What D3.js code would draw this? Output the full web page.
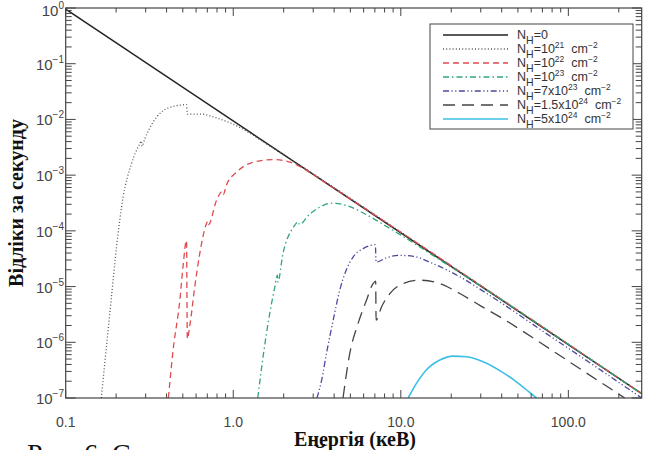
<!DOCTYPE html>
<html>
<head>
<meta charset="utf-8">
<script src="https://cdn.jsdelivr.net/npm/d3@7"></script>
<style>
  body { margin: 0; background: #fff; }
  text { font-family: "Liberation Sans", Arial, sans-serif; }
</style>
</head>
<body>
<svg id="chart" width="648" height="450"></svg>
<script>
// energies (keV) and counts per second, one pair of arrays per N_H
var eNH0 = [0.1, 274];
var cNH0 = [0.95, 1.2e-7];

var eNH21 = [0.163, 0.175, 0.1875, 0.201, 0.220, 0.2466, 0.276, 0.283, 0.285, 0.2965, 0.325, 0.381, 0.458, 0.526, 0.532, 0.631, 0.83, 1.094, 1.5, 2.0, 3.0, 10, 274];
var cNH21 = [1.0e-7, 8.3e-7, 6.5e-6, 5.1e-5, 4.0e-4, 1.59e-3, 3.6e-3, 4.1e-3, 3.3e-3, 4.5e-3, 8.0e-3, 1.43e-2, 1.76e-2, 1.84e-2, 1.25e-2, 1.25e-2, 1.02e-2, 7.2e-3, 4.0e-3, 2.3e-3, 1.05e-3, 9.5e-5, 1.2e-7];

var eNH22 = [0.41, 0.4375, 0.48, 0.501, 0.526, 0.532, 0.549, 0.589, 0.631, 0.692, 0.705, 0.712, 0.794, 0.86, 0.872, 0.91, 1.045, 1.313, 1.73, 2.175, 2.49, 3.5, 5, 10, 274];
var cNH22 = [1.0e-7, 7.2e-7, 5.7e-6, 2.24e-5, 6.7e-5, 1.15e-6, 1.89e-6, 9.8e-6, 3.9e-5, 1.34e-4, 1.5e-4, 1.3e-4, 3.5e-4, 5.1e-4, 4.5e-4, 6.6e-4, 1.13e-3, 1.70e-3, 1.90e-3, 1.72e-3, 1.43e-3, 7.5e-4, 3.75e-4, 9.45e-5, 1.2e-7];

var eNH23 = [1.40, 1.578, 1.77, 1.835, 1.845, 1.98, 2.28, 2.45, 2.48, 2.86, 3.28, 3.85, 4.74, 6.24, 8.22, 11.3, 15.6, 25, 50, 274];
var cNH23 = [1.0e-7, 1.44e-6, 9.8e-6, 1.6e-5, 1.2e-5, 3.9e-5, 1.15e-4, 1.45e-4, 1.3e-4, 2.0e-4, 2.66e-4, 3.14e-4, 2.85e-4, 1.95e-4, 1.2e-4, 6.7e-5, 3.6e-5, 1.46e-5, 3.72e-6, 1.18e-7];

var eNH7e23 = [3.16, 3.37, 3.6, 3.95, 4.32, 4.72, 5.19, 5.96, 7.05, 7.12, 8.23, 9.85, 11.9, 15.6, 22.6, 32.6, 39, 70, 120, 274];
var cNH7e23 = [1.0e-7, 2.1e-7, 6.3e-7, 2.5e-6, 8.6e-6, 1.96e-5, 3.39e-5, 4.8e-5, 5.6e-5, 2.75e-5, 3.3e-5, 3.63e-5, 3.49e-5, 2.58e-5, 1.49e-5, 7.5e-6, 5.3e-6, 1.6e-6, 5.4e-7, 1.0e-7];

var eNH15e24 = [4.52, 4.96, 5.56, 6.24, 6.83, 7.08, 7.12, 7.67, 8.6, 10.3, 13.0, 17.1, 22.5, 29.6, 39, 70, 120, 217];
var cNH15e24 = [1.0e-7, 6.3e-7, 2.18e-6, 5.7e-6, 1.13e-5, 1.25e-5, 2.5e-6, 4.3e-6, 7.5e-6, 1.13e-5, 1.3e-5, 1.13e-5, 7.5e-6, 4.6e-6, 2.86e-6, 9.3e-7, 3.2e-7, 1.0e-7];

var eNH5e24 = [11.06, 12.4, 14.2, 17.1, 20.5, 24.7, 31, 39, 49, 58, 64.6];
var cNH5e24 = [1.0e-7, 1.83e-7, 3.18e-7, 4.8e-7, 5.65e-7, 5.5e-7, 4.47e-7, 3.1e-7, 1.95e-7, 1.3e-7, 1.0e-7];

// legend text pieces: mantissa and exponent of N_H
var nhMant = ["", "", "", "", "7x", "1.5x", "5x"];
var nhExp = ["", "21", "22", "23", "23", "24", "24"];

var xTickValues = [0.1, 1, 10, 100];
var xTickLabels = ["0.1", "1.0", "10.0", "100.0"];
var yTickExps = [0, -1, -2, -3, -4, -5, -6, -7];

var xTitle = "Енергія (кеВ)";
var yTitle = "Відліки за секунду";
var caption = "Рис. 6. Спостережуваний спектр";

var svg = d3.select("#chart");

var x = d3.scaleLog().domain([0.1, 274]).range([65.7, 641.7]);
var y = d3.scaleLog().domain([1e-7, 1]).range([398, 8]);

var styles = [
    { color: "#222222", dash: null, width: 1.5 },
    { color: "#555555", dash: "1,2.2", width: 1.3 },
    { color: "#df4a4f", dash: "6,4", width: 1.3 },
    { color: "#2fa677", dash: "6,3,1.5,3", width: 1.3 },
    { color: "#4b4a9e", dash: "6,2.5,1.2,2.5,1.2,2.5", width: 1.3 },
    { color: "#444444", dash: "12,7", width: 1.3 },
    { color: "#3cbfe6", dash: null, width: 1.6 }
];

var series = [
    [eNH0, cNH0], [eNH21, cNH21], [eNH22, cNH22], [eNH23, cNH23],
    [eNH7e23, cNH7e23], [eNH15e24, cNH15e24], [eNH5e24, cNH5e24]
];

// caption of the document, cut by the bottom edge
svg.append("text")
    .attr("x", 27).attr("y", 463)
    .style("font-family", "'Liberation Serif', 'Times New Roman', serif")
    .style("font-size", "28px").style("fill", "#111")
    .text(caption);

svg.append("clipPath").attr("id", "plotclip")
    .append("rect")
    .attr("x", x.range()[0]).attr("y", y.range()[1])
    .attr("width", x.range()[1] - x.range()[0])
    .attr("height", y.range()[0] - y.range()[1]);

var line = d3.line()
    .x(function(d) { return x(d[0]); })
    .y(function(d) { return y(d[1]); })
    .curve(d3.curveMonotoneX);

var curves = svg.append("g").attr("clip-path", "url(#plotclip)");
series.forEach(function(s, i) {
    var pts = s[0].map(function(e, j) { return [e, s[1][j]]; });
    curves.append("path")
        .attr("d", line(pts))
        .attr("fill", "none")
        .attr("stroke", styles[i].color)
        .attr("stroke-width", styles[i].width)
        .attr("stroke-dasharray", styles[i].dash);
});

// frame and ticks on all four sides, pointing inward
var x0 = x.range()[0], x1 = x.range()[1], y0 = y.range()[0], y1 = y.range()[1];
var axisColor = "#444";
var frame = svg.append("g");

x.ticks().forEach(function(t) {
    var major = Math.abs(Math.log10(t) - Math.round(Math.log10(t))) < 1e-9;
    var len = major ? 8 : 4.5;
    var px = x(t);
    frame.append("line").attr("x1", px).attr("x2", px).attr("y1", y0).attr("y2", y0 - len)
        .attr("stroke", axisColor).attr("stroke-width", 1);
    frame.append("line").attr("x1", px).attr("x2", px).attr("y1", y1).attr("y2", y1 + len)
        .attr("stroke", axisColor).attr("stroke-width", 1);
});

y.ticks().forEach(function(t) {
    var major = Math.abs(Math.log10(t) - Math.round(Math.log10(t))) < 1e-9;
    var len = major ? 10 : 6;
    var py = y(t);
    frame.append("line").attr("x1", x0).attr("x2", x0 + len).attr("y1", py).attr("y2", py)
        .attr("stroke", axisColor).attr("stroke-width", 1);
    frame.append("line").attr("x1", x1).attr("x2", x1 - len).attr("y1", py).attr("y2", py)
        .attr("stroke", axisColor).attr("stroke-width", 1);
});

frame.append("rect")
    .attr("x", x0).attr("y", y1).attr("width", x1 - x0).attr("height", y0 - y1)
    .attr("fill", "none").attr("stroke", axisColor).attr("stroke-width", 1.2);

// tick labels
xTickValues.forEach(function(t, i) {
    svg.append("text")
        .attr("x", x(t)).attr("y", 427)
        .attr("text-anchor", "middle")
        .style("font-size", "14px").style("fill", "#444")
        .text(xTickLabels[i]);
});

yTickExps.forEach(function(k) {
    var py = y(Math.pow(10, k));
    var t = svg.append("text")
        .attr("x", 64).attr("y", py + 6 + (k === 0 ? 2 : 0))
        .attr("text-anchor", "end")
        .style("font-size", "15px").style("fill", "#444");
    t.append("tspan").text("10");
    t.append("tspan").attr("dy", -7).style("font-size", "10px")
        .text(k === 0 ? "0" : "\u2212" + (-k));
});

// axis titles
svg.append("text")
    .attr("x", 355).attr("y", 446)
    .attr("text-anchor", "middle")
    .style("font-family", "'Liberation Serif', 'Times New Roman', serif")
    .style("font-weight", "bold").style("font-size", "20px").style("fill", "#111")
    .text(xTitle);

svg.append("text")
    .attr("transform", "translate(23,203) rotate(-90)")
    .attr("text-anchor", "middle")
    .style("font-family", "'Liberation Serif', 'Times New Roman', serif")
    .style("font-weight", "bold").style("font-size", "20px").style("fill", "#111")
    .text(yTitle);

// legend
var lg = svg.append("g");
lg.append("rect")
    .attr("x", 430).attr("y", 24).attr("width", 203).attr("height", 105)
    .attr("fill", "#fff").attr("stroke", axisColor).attr("stroke-width", 1);

function addParts(text, parts) {
    var off = 0;
    parts.forEach(function(p) {
        var target = p[1] === "sub" ? 5 : (p[1] === "sup" ? -5 : 0);
        var size = p[1] === "sub" ? "10.5px" : (p[1] === "sup" ? "8.5px" : "12.5px");
        text.append("tspan").attr("dy", target - off).style("font-size", size).text(p[0]);
        off = target;
    });
}

styles.forEach(function(st, i) {
    var ly = 35 + i * 14;
    lg.append("line")
        .attr("x1", 443).attr("x2", 508).attr("y1", ly).attr("y2", ly)
        .attr("stroke", st.color).attr("stroke-width", st.width)
        .attr("stroke-dasharray", st.dash);
    var t = lg.append("text").attr("x", 517).attr("y", ly + 4).style("fill", "#333");
    var parts = [["N", ""], ["H", "sub"]];
    if (i === 0) {
        parts.push(["=0", ""]);
    } else {
        parts.push(["=" + nhMant[i] + "10", ""]);
        parts.push([nhExp[i], "sup"]);
        parts.push(["\u00a0\u00a0cm", ""]);
        parts.push(["\u22122", "sup"]);
    }
    addParts(t, parts);
});
</script>
</body>
</html>
